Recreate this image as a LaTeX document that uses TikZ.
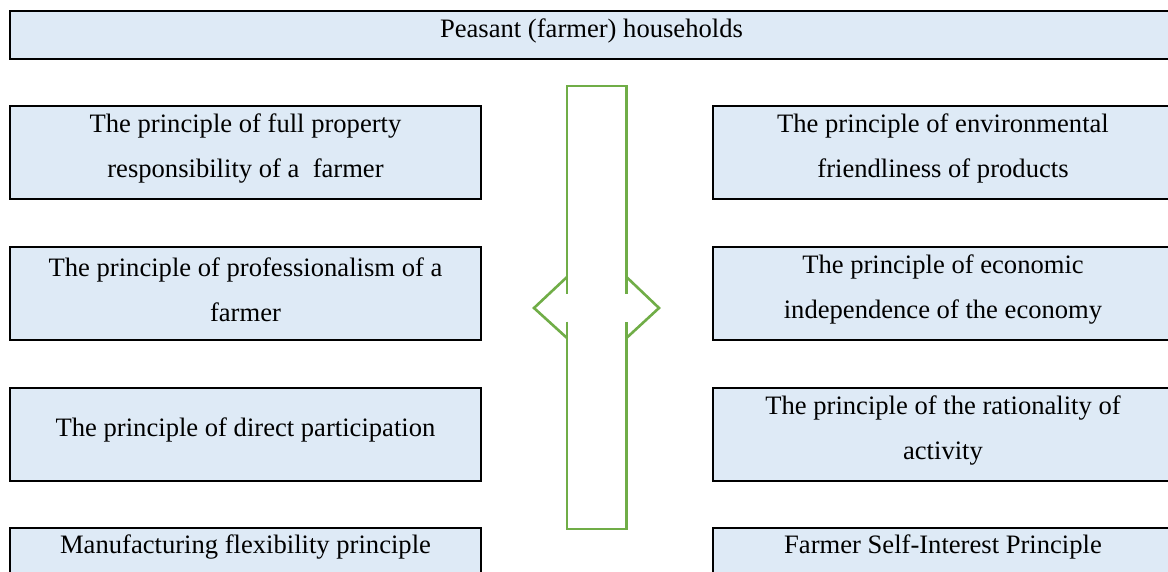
\documentclass[tikz,border=0pt]{standalone}
\usepackage{fontspec}
\setmainfont{Liberation Serif}
\definecolor{boxfill}{HTML}{DEEAF6}
\definecolor{arrowgreen}{HTML}{70AD47}
\begin{document}
\begin{tikzpicture}[x=1pt,y=-1pt,
  pbox/.style={draw=black,line width=2.2pt,fill=boxfill},
  ptext/.style={font=\fontsize{26.6}{45}\selectfont,align=center,inner sep=0pt,anchor=center},
  garrow/.style={draw=arrowgreen,line width=2.6pt}]
\useasboundingbox (0,0) rectangle (1168,571);
\begin{scope}
\clip (0,0) rectangle (1168,571);
% boxes
\draw[pbox] (10,11) rectangle (1173,59);
\node[ptext] (top) at (591.5,31) {Peasant (farmer) households};
\draw[pbox] (10,106) rectangle (481,199);
\node[ptext] (l1) at (245.5,148.5) {The principle of full property\\responsibility of a~~farmer};
\draw[pbox] (10,247) rectangle (481,340);
\node[ptext] (l2) at (245.5,289.5) {The principle of professionalism of a\\farmer};
\draw[pbox] (10,388) rectangle (481,481);
\node[ptext] (l3) at (245.5,430) {The principle of direct participation};
\draw[pbox] (10,528) rectangle (481,600);
\node[ptext] (l4) at (245.5,547) {Manufacturing flexibility principle};
\draw[pbox] (713,106) rectangle (1173,199);
\node[ptext] (r1) at (943,148.5) {The principle of environmental\\friendliness of products};
\draw[pbox] (713,247) rectangle (1173,340);
\node[ptext] (r2) at (943,289.5) {The principle of economic\\independence of the economy};
\draw[pbox] (713,388) rectangle (1173,481);
\node[ptext] (r3) at (943,430.5) {The principle of the rationality of\\activity};
\draw[pbox] (713,528) rectangle (1173,600);
\node[ptext] (r4) at (943,547) {Farmer Self-Interest Principle};
\end{scope}
% green double arrow
\draw[garrow] (567,293.5) -- (567,86) -- (626.5,86) -- (626.5,293.5);
\draw[garrow] (567,321.5) -- (567,529) -- (626.5,529) -- (626.5,321.5);
\draw[garrow] (567,277) -- (534,308) -- (567,338);
\draw[garrow] (626.5,277) -- (659,308) -- (626.5,338);
\end{tikzpicture}
\end{document}
